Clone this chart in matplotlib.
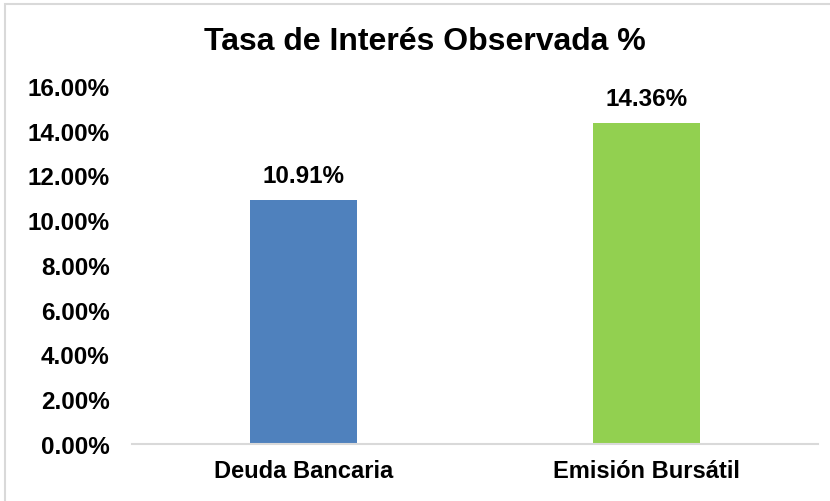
import matplotlib
matplotlib.use("Agg")
import matplotlib.pyplot as plt
from matplotlib.patches import Rectangle

categories = ["Deuda Bancaria", "Emisión Bursátil"]
values = [10.91, 14.36]
colors = ["#4F81BD", "#92D050"]
yticks = [0, 2, 4, 6, 8, 10, 12, 14, 16]
title = "Tasa de Interés Observada %"

plt.rcParams['font.family'] = ['Liberation Sans', 'DejaVu Sans']
plt.rcParams['font.weight'] = 'bold'

fig = plt.figure(figsize=(8.30, 5.02), dpi=100)
fig.patch.set_facecolor("white")

# outer chart frame (partially cropped in the reference)
fig.add_artist(Rectangle((5 / 830, -0.05), 1.0, 1 - 5 / 502 + 0.05,
                         transform=fig.transFigure, fill=False,
                         edgecolor="#D9D9D9", linewidth=1.5))

ax = fig.add_axes([132 / 830, 57 / 502, 686 / 830, 358 / 502])
x = list(range(len(categories)))
bars = ax.bar(x, values, width=0.31, color=colors)

ax.set_xlim(-0.5, len(categories) - 0.5)
ax.set_ylim(0, 16)
ax.set_yticks(yticks)
ax.set_yticklabels([f"{v:.2f}%" for v in yticks], fontsize=17.5, fontweight='bold')
ax.set_xticks(x)
ax.set_xticklabels(categories, fontsize=17, fontweight='bold')
ax.tick_params(axis='y', length=0, pad=16)
ax.tick_params(axis='x', length=0, pad=11)

for s in ["top", "right", "left"]:
    ax.spines[s].set_visible(False)
ax.spines["bottom"].set_color("#D9D9D9")
ax.spines["bottom"].set_linewidth(1.5)

for xi, v in zip(x, values):
    ax.annotate(f"{v:.2f}%", (xi, v), xytext=(0, 9), textcoords="offset points",
                ha="center", va="bottom", fontsize=17.5, fontweight='bold')

fig.text(425 / 830, 1 - 42 / 502, title, ha="center", va="center",
         fontsize=23, fontweight='bold')

fig.savefig("out.png", dpi=100)
